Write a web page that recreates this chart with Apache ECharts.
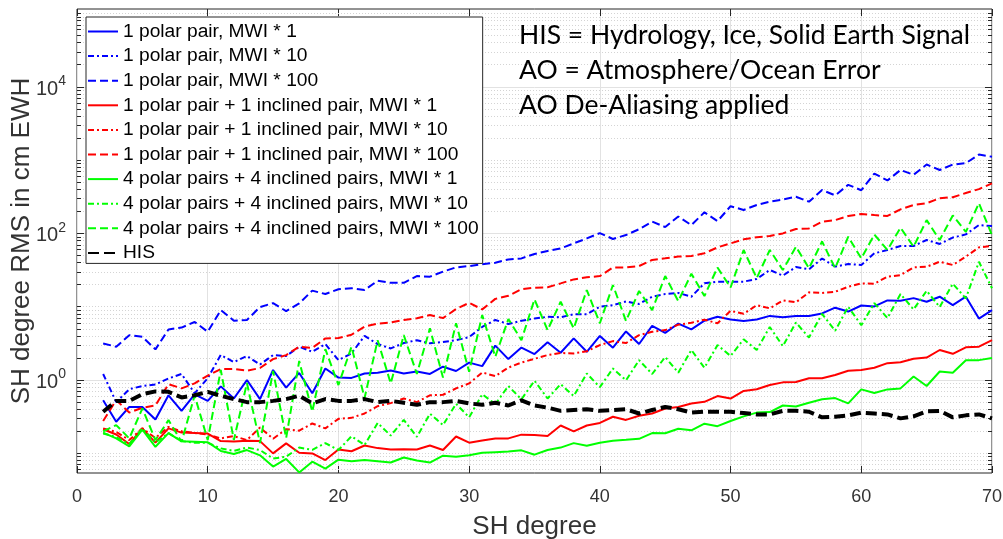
<!DOCTYPE html>
<html>
<head>
<meta charset="utf-8">
<script src="https://cdn.jsdelivr.net/npm/echarts@6/dist/echarts.min.js"></script>
<style>
  html, body { margin: 0; padding: 0; background: #fff; }
  #chart { width: 1003px; height: 539px; }
</style>
</head>
<body>
<div id="chart"></div>
<script>
// SH degree (x axis)
const degrees = [2, 3, 4, 5, 6, 7, 8, 9, 10, 11, 12, 13, 14, 15, 16, 17, 18, 19, 20,
  21, 22, 23, 24, 25, 26, 27, 28, 29, 30, 31, 32, 33, 34, 35, 36, 37, 38, 39, 40,
  41, 42, 43, 44, 45, 46, 47, 48, 49, 50, 51, 52, 53, 54, 55, 56, 57, 58, 59, 60,
  61, 62, 63, 64, 65, 66, 67, 68, 69, 70];

// 1 polar pair
const polarMwi1 = [0.53, 0.27, 0.43, 0.43, 0.29, 0.62, 0.38, 0.64, 0.52,
  0.82, 0.56, 1.0, 0.55, 1.37, 0.79, 1.25, 0.66, 1.44, 1.08,
  1.07, 1.23, 1.26, 1.35, 1.23, 1.31, 1.21, 1.52, 1.33, 1.73,
  1.55, 2.95, 1.93, 2.77, 2.26, 3.27, 2.36, 3.7, 2.43, 4.0,
  2.76, 4.6, 3.1, 5.5, 4.4, 5.9, 4.9, 6.45, 7.3, 6.7,
  6.4, 6.7, 7.5, 7.2, 7.5, 7.5, 8.1, 9.7, 8.6, 10.4,
  10.1, 12.2, 12.1, 13.1, 11.7, 13.7, 10.5, 13.7, 6.9, 9.0];
const polarMwi10 = [1.21, 0.5, 0.75, 0.83, 0.87, 1.05, 1.21, 0.66, 1.06,
  2.2, 1.76, 2.13, 1.63, 2.19, 2.13, 2.85, 2.43, 3.1, 1.87,
  2.31, 4.0, 3.1, 2.7, 3.2, 3.5, 3.17, 3.3, 3.5, 3.86,
  5.3, 6.6, 5.8, 6.45, 6.9, 7.3, 7.2, 7.9, 7.9, 10.0,
  10.5, 11.8, 10.9, 13.7, 14.9, 15.4, 13.7, 20.9, 22, 22,
  22, 23.9, 31.7, 26.6, 34.8, 32.4, 45.5, 35.3, 38.2, 37.1,
  53.5, 59.4, 67.4, 67.4, 81.3, 71.8, 87.7, 97, 130, 126];
const polarMwi100 = [3.16, 2.85, 4.1, 3.9, 2.62, 4.9, 5.2, 6.2, 4.55,
  9.0, 6.45, 6.6, 9.9, 11.2, 8.7, 11.1, 16.6, 14.9, 17.3,
  17.9, 16.9, 22.6, 21.2, 21.2, 26.2, 25.7, 30.1, 34.4, 35.9,
  37.9, 39.8, 44.2, 45.6, 52.4, 57.5, 62.5, 73.1, 85.4, 101,
  84, 95, 114, 145, 122, 170, 130, 194, 147, 235,
  209, 244, 271, 290, 316, 271, 391, 330, 460, 388,
  656, 527, 733, 630, 870, 733, 870, 907, 1190, 1110];

// 1 polar pair + 1 inclined pair
const mixedMwi1 = [0.213, 0.181, 0.134, 0.219, 0.14, 0.219, 0.192, 0.189, 0.186,
  0.147, 0.145, 0.149, 0.147, 0.10, 0.137, 0.102, 0.10, 0.081, 0.113,
  0.107, 0.128, 0.118, 0.113, 0.114, 0.113, 0.128, 0.111, 0.17, 0.14,
  0.15, 0.16, 0.16, 0.18, 0.178, 0.173, 0.24, 0.2, 0.24, 0.26,
  0.316, 0.286, 0.326, 0.35, 0.41, 0.43, 0.48, 0.505, 0.605, 0.56,
  0.71, 0.75, 0.855, 0.93, 0.94, 1.06, 1.06, 1.17, 1.34, 1.37,
  1.47, 1.7, 1.75, 1.95, 2.03, 2.57, 2.28, 2.8, 2.85, 3.5];
const mixedMwi10 = [0.219, 0.196, 0.152, 0.22, 0.162, 0.23, 0.2, 0.19, 0.18,
  0.16, 0.172, 0.152, 0.225, 0.158, 0.214, 0.204, 0.256, 0.219, 0.296,
  0.305, 0.35, 0.44, 0.485, 0.56, 0.5, 0.62, 0.63, 0.77, 0.9,
  1.27, 1.13, 1.48, 1.73, 1.95, 2.19, 2.34, 2.31, 2.47, 3.0,
  3.4, 3.2, 4.1, 4.55, 4.8, 5.7, 6.05, 6.65, 5.95, 8.8,
  8.0, 10.5, 9.5, 12.2, 11.5, 15.7, 15.4, 16.0, 18.7, 20.8,
  20.6, 25.7, 27.0, 34.4, 35.1, 41.1, 37.1, 48.3, 64.5, 67.4];
const mixedMwi100 = [0.276, 0.533, 0.36, 0.42, 0.45, 0.88, 0.77, 0.9, 1.15,
  1.41, 1.42, 1.34, 1.46, 1.93, 2.19, 2.85, 2.75, 3.7, 3.74,
  4.15, 5.36, 5.87, 6.1, 6.6, 6.97, 7.7, 7.0, 9.3, 11.3,
  9.2, 12.8, 14.1, 17.3, 18.2, 18.4, 20.8, 23.6, 25.2, 26.2,
  34.3, 34.4, 35.9, 43.4, 45.7, 48.3, 49.2, 53.6, 64.5, 73.1,
  83, 88.6, 92.2, 100, 115, 117, 144, 152, 173, 184,
  178, 173, 213, 244, 258, 302, 312, 355, 402, 482];

// 4 polar pairs + 4 inclined pairs
const multiMwi1 = [0.192, 0.16, 0.125, 0.21, 0.123, 0.189, 0.146, 0.144, 0.142,
  0.108, 0.098, 0.111, 0.094, 0.066, 0.084, 0.055, 0.077, 0.062, 0.082,
  0.078, 0.081, 0.078, 0.075, 0.088, 0.08, 0.075, 0.093, 0.09, 0.094,
  0.102, 0.104, 0.106, 0.11, 0.096, 0.111, 0.12, 0.138, 0.127, 0.14,
  0.149, 0.153, 0.158, 0.189, 0.188, 0.217, 0.206, 0.254, 0.235, 0.276,
  0.32, 0.36, 0.366, 0.45, 0.436, 0.49, 0.547, 0.568, 0.48, 0.746,
  0.665, 0.746, 0.77, 1.12, 0.83, 1.31, 1.26, 1.86, 1.87, 2.0];
const multiMwi10 = [0.187, 0.167, 0.134, 0.219, 0.14, 0.189, 0.147, 0.14, 0.14,
  0.117, 0.108, 0.12, 0.111, 0.085, 0.09, 0.12, 0.112, 0.138, 0.111,
  0.171, 0.13, 0.26, 0.175, 0.286, 0.168, 0.347, 0.243, 0.475, 0.31,
  0.64, 0.47, 0.83, 0.545, 0.98, 0.56, 0.88, 0.605, 1.23, 0.8,
  1.44, 0.99, 1.87, 1.21, 2.06, 1.26, 2.57, 1.47, 3.0, 2.13,
  3.6, 2.57, 5.3, 2.9, 6.1, 3.8, 8.0, 4.7, 10.0, 5.6,
  11.2, 7.0, 14.9, 9.2, 16.5, 9.9, 20.6, 13.0, 41.1, 17.9];
const multiMwi100 = [0.2, 0.243, 0.16, 0.41, 0.152, 0.284, 0.144, 0.615, 0.152,
  1.37, 0.152, 0.91, 0.138, 1.33, 0.162, 1.82, 0.37, 2.64, 0.855,
  2.85, 0.57, 3.5, 0.9, 4.1, 1.21, 5.07, 1.08, 5.95, 1.3,
  7.7, 2.08, 6.8, 3.5, 12.6, 4.8, 11.7, 5.07, 16.9, 5.95,
  19.8, 6.4, 16.4, 9.0, 26.2, 11.9, 28.2, 14.0, 34.3, 18.3,
  59.4, 24.6, 59.4, 31.7, 65.9, 33.5, 77.5, 33.5, 90.2, 45.6,
  96.4, 59.4, 120, 65.9, 152, 81.3, 176, 105, 258, 95];

// HIS signal
const hisSignal = [0.37, 0.52, 0.52, 0.64, 0.70, 0.69, 0.58, 0.62, 0.69,
  0.61, 0.55, 0.5, 0.5, 0.52, 0.55, 0.61, 0.48, 0.55, 0.52,
  0.52, 0.55, 0.5, 0.52, 0.49, 0.46, 0.5, 0.5, 0.52, 0.48,
  0.46, 0.49, 0.45, 0.53, 0.45, 0.42, 0.38, 0.39, 0.4, 0.38,
  0.39, 0.4, 0.35, 0.39, 0.43, 0.4, 0.36, 0.37, 0.37, 0.37,
  0.355, 0.34, 0.34, 0.38, 0.38, 0.37, 0.31, 0.316, 0.33, 0.36,
  0.35, 0.34, 0.3, 0.32, 0.375, 0.38, 0.31, 0.33, 0.34, 0.3];

const yLabelTicks = [1, 100, 10000];
const yMin = 0.054, yMax = 1.15e5;

const notes = ['HIS = Hydrology, Ice, Solid Earth Signal', 'AO = Atmosphere/Ocean Error', 'AO De-Aliasing applied'];

const sans = '"Liberation Sans", Arial, sans-serif';
const axisColor = '#262626';
const dashed = [8, 4];
const dashDot = [6, 3, 2, 3];

function line(name, values, color, type, width) {
  return {
    name: name,
    type: 'line',
    data: degrees.map((d, i) => [d, values[i]]),
    symbol: 'none',
    z: 3,
    lineStyle: { color: color, width: width || 2, type: type, cap: 'butt' },
    itemStyle: { color: color }
  };
}

const series = [
  line('1 polar pair, MWI * 1', polarMwi1, '#0000ff', 'solid'),
  line('1 polar pair, MWI * 10', polarMwi10, '#0000ff', dashDot),
  line('1 polar pair, MWI * 100', polarMwi100, '#0000ff', dashed),
  line('1 polar pair + 1 inclined pair, MWI * 1', mixedMwi1, '#ff0000', 'solid'),
  line('1 polar pair + 1 inclined pair, MWI * 10', mixedMwi10, '#ff0000', dashDot),
  line('1 polar pair + 1 inclined pair, MWI * 100', mixedMwi100, '#ff0000', dashed),
  line('4 polar pairs + 4 inclined pairs, MWI * 1', multiMwi1, '#00ff00', 'solid'),
  line('4 polar pairs + 4 inclined pairs, MWI * 10', multiMwi10, '#00ff00', dashDot),
  line('4 polar pairs + 4 inclined pairs, MWI * 100', multiMwi100, '#00ff00', dashed),
  line('HIS', hisSignal, '#000000', [11, 5], 4)
];

// log grid lines and ticks (matlab style: labelled decades solid, the rest dotted)
const gridLines = [];
const tickSegs = [];
for (let k = -2; k <= 5; k++) {
  for (let m = 1; m <= 9; m++) {
    const v = m * Math.pow(10, k);
    if (v < yMin || v > yMax) continue;
    const major = yLabelTicks.some(t => Math.abs(t - v) / t < 1e-9);
    gridLines.push({
      yAxis: v,
      lineStyle: major ? { color: '#e2e2e2', width: 1, type: 'solid' }
                       : { color: '#d4d4d4', width: 1, type: [1, 2] }
    });
    const len = (major ? 7 : 4) / 13.07;
    const ts = { color: axisColor, width: 1, type: 'solid' };
    tickSegs.push([{ coord: [0, v], lineStyle: ts }, { coord: [len, v] }]);
    tickSegs.push([{ coord: [70, v], lineStyle: ts }, { coord: [70 - len, v] }]);
  }
}

series.push({
  name: 'grid',
  type: 'line',
  data: [],
  z: 1,
  silent: true,
  markLine: {
    silent: true,
    symbol: ['none', 'none'],
    label: { show: false },
    animation: false,
    z: 1,
    data: gridLines.concat(tickSegs)
  }
});

const chart = echarts.init(document.getElementById('chart'), null, { renderer: 'canvas' });
chart.setOption({
  backgroundColor: '#fff',
  animation: false,
  grid: {
    left: 77, right: 11, top: 9, bottom: 66,
    outerBoundsMode: 'none', containLabel: false,
    show: true, borderColor: axisColor, borderWidth: 1, backgroundColor: '#fff'
  },
  legend: {
    data: series.slice(0, 10).map(s => s.name),
    orient: 'vertical',
    left: 86, top: 17, z: 20,
    itemWidth: 30, itemHeight: 18, itemGap: 5.6,
    padding: [5, 4, 1, 1],
    backgroundColor: '#ffffff',
    borderColor: axisColor, borderWidth: 1,
    itemStyle: { color: 'rgba(0,0,0,0)', borderWidth: 0, opacity: 0 },
    textStyle: { fontFamily: sans, fontSize: 19.2, color: '#000', lineHeight: 18 },
    selectedMode: false
  },
  xAxis: [{
    type: 'value', min: 0, max: 70, interval: 10,
    name: 'SH degree', nameLocation: 'middle', nameGap: 41,
    nameTextStyle: { fontFamily: sans, fontSize: 26, color: '#333' },
    axisLine: { show: false },
    axisTick: { show: true, inside: true, length: 7, lineStyle: { color: axisColor } },
    axisLabel: { fontFamily: sans, fontSize: 18, color: '#333', margin: 15 },
    splitLine: { show: true, lineStyle: { color: '#e2e2e2', width: 1 } }
  }, {
    type: 'value', min: 0, max: 70, interval: 10, position: 'top',
    axisLine: { show: false },
    axisTick: { show: true, inside: true, length: 7, lineStyle: { color: axisColor } },
    axisLabel: { show: false },
    splitLine: { show: false }
  }],
  yAxis: {
    type: 'log', logBase: 10, min: yMin, max: yMax,
    name: 'SH degree RMS in cm EWH', nameLocation: 'middle', nameGap: 42,
    nameMoveOverlap: false,
    nameTextStyle: { fontFamily: sans, fontSize: 26, color: '#333' },
    axisLine: { show: false },
    axisTick: { show: false },
    splitLine: { show: false },
    axisLabel: {
      margin: 11,
      showMinLabel: false, showMaxLabel: false,
      formatter: function (v) {
        const e = Math.round(Math.log10(v));
        const ok = yLabelTicks.some(t => Math.abs(t - v) / t < 1e-6);
        return ok ? '{b|10}{s|' + e + '}' : '';
      },
      rich: {
        b: { fontFamily: sans, fontSize: 20, color: '#333', lineHeight: 25, verticalAlign: 'bottom' },
        s: { fontFamily: sans, fontSize: 14, color: '#333', lineHeight: 25, verticalAlign: 'top' }
      }
    }
  },
  graphic: [{
    type: 'text', left: 519, top: 18, z: 100,
    style: {
      text: notes.join('\n'),
      font: '26.5px Lato, "Open Sans", sans-serif',
      fill: '#000',
      lineHeight: 35
    }
  }],
  series: series
});
</script>
</body>
</html>
